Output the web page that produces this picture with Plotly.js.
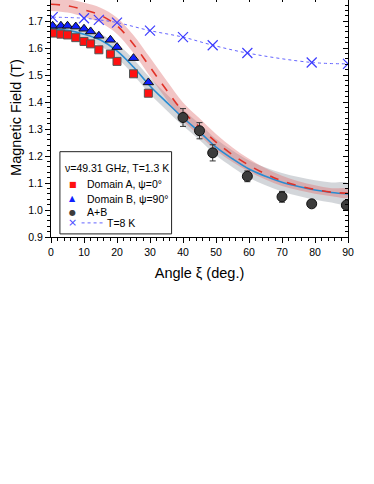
<!DOCTYPE html>
<html>
<head>
<meta charset="utf-8">
<script src="https://cdn.plot.ly/plotly-3.0.1.min.js"></script>
<style>
  html, body { margin: 0; padding: 0; background: #fff; overflow: hidden; }
  #plot { position: absolute; left: 0; top: -2px; width: 374px; height: 486px; }
</style>
</head>
<body>
<div id="plot"></div>
<script>
// measured data
var xiA = [0.5, 3, 5, 7.5, 10, 12, 14.5, 18, 20, 25, 29.5];
var bA = [1.656, 1.652, 1.649, 1.639, 1.625, 1.616, 1.594, 1.578, 1.551, 1.505, 1.433];
var xiB = [0.5, 3, 5, 7.5, 10, 12, 14.5, 18, 20, 25, 29.5];
var bB = [1.683, 1.683, 1.683, 1.680, 1.672, 1.662, 1.646, 1.631, 1.604, 1.563, 1.473];
var xiAB = [40, 45, 49, 59.5, 70, 79, 89.5];
var bAB = [1.343, 1.294, 1.212, 1.125, 1.049, 1.023, 1.018];
var errAB = [0.033, 0.03, 0.03, 0.02, 0.02, 0.01, 0.01];
var xi8K = [0.5, 10, 14.5, 20, 30, 40, 49, 59.5, 79, 90];
var b8K = [1.715, 1.711, 1.705, 1.695, 1.665, 1.641, 1.611, 1.582, 1.547, 1.542];

// fit curves
var fitX = [0, 5, 10, 15, 20, 25, 30, 35, 40, 45, 50, 55, 60, 65, 70, 75, 80, 85, 90];
var fitRed = [1.763, 1.757, 1.742, 1.722, 1.683, 1.615, 1.530, 1.445, 1.365, 1.308, 1.252, 1.205, 1.166, 1.134, 1.108, 1.090, 1.076, 1.066, 1.062];
var fitBlue = [1.671, 1.666, 1.652, 1.630, 1.590, 1.530, 1.460, 1.400, 1.342, 1.290, 1.233, 1.190, 1.152, 1.125, 1.103, 1.087, 1.074, 1.065, 1.060];
var errRed = [0.025, 0.025, 0.026, 0.028, 0.030, 0.033, 0.035, 0.035, 0.034, 0.032, 0.030, 0.027, 0.024, 0.021, 0.019, 0.017, 0.016, 0.015, 0.015];
var errBlue = [0.020, 0.020, 0.021, 0.023, 0.026, 0.029, 0.030, 0.030, 0.030, 0.030, 0.030, 0.031, 0.032, 0.033, 0.034, 0.035, 0.036, 0.037, 0.038];

// legend entries
var legTitle = 'ν=49.31 GHz, T=1.3 K';
var legNames = ['Domain A, ψ=0°', 'Domain B, ψ=90°', 'A+B', 'T=8 K'];
var legSyms = ['■', '▲', '●', '×'];
var legColors = ['#ff1010', '#1020ff', '#3c3c3c', '#4a4aff'];

function band(fit, err, color){
  var up = fit.map(function(v, i){ return v + err[i]; });
  var lo = fit.map(function(v, i){ return v - err[i]; });
  return {
    x: fitX.concat(fitX.slice().reverse()),
    y: up.concat(lo.reverse()),
    type: 'scatter', mode: 'lines', fill: 'toself',
    fillcolor: color, line: {width: 0, shape: 'spline'},
    hoverinfo: 'skip'
  };
}

var data = [
  band(fitBlue, errBlue, 'rgba(150,158,166,0.42)'),
  band(fitRed, errRed, 'rgba(222,110,110,0.40)'),
  {x: fitX, y: fitBlue, type: 'scatter', mode: 'lines',
   line: {color: 'rgb(40,140,210)', width: 1.6, shape: 'spline'}},
  {x: fitX, y: fitRed, type: 'scatter', mode: 'lines',
   line: {color: 'rgb(225,50,40)', width: 1.6, dash: 'dash', shape: 'spline'}},
  {x: xi8K, y: b8K, type: 'scatter', mode: 'lines+markers',
   line: {color: 'rgb(100,100,255)', width: 1, dash: 'dot', shape: 'spline'},
   marker: {symbol: 'x-thin', size: 10, line: {color: 'rgb(60,60,255)', width: 1.2}}},
  {x: xiAB, y: bAB, type: 'scatter', mode: 'markers',
   error_y: {type: 'data', array: errAB, color: '#333', thickness: 1, width: 3},
   marker: {symbol: 'circle', size: 10, color: '#3c3c3c', line: {color: '#111', width: 1}}},
  {x: xiA, y: bA, type: 'scatter', mode: 'markers',
   marker: {symbol: 'square', size: 8, color: '#ff1010', line: {color: '#555', width: 1}}},
  {x: xiB, y: bB, type: 'scatter', mode: 'markers',
   marker: {symbol: 'triangle-up', size: 9, color: '#1020ff', line: {color: '#111', width: 1}}},
  {x: [], y: [], xaxis: 'x2', yaxis: 'y2', type: 'scatter'}
];

var yr = [0.9, 1.786];
var tickfont = {family: 'Liberation Sans, Arial, sans-serif', size: 10.5, color: '#000'};

// hand-drawn legend box (paper coords of the plot area)
var legTop = 0.287, legStep = [0.067, 0.060, 0.056, 0.045];
var annotations = [{
  xref: 'paper', yref: 'paper', x: 0.040, y: legTop, xanchor: 'left', yanchor: 'middle',
  text: legTitle, showarrow: false, font: {size: 10.5}
}];
var yy = legTop;
legNames.forEach(function(name, i){
  yy -= legStep[i];
  annotations.push({
    xref: 'paper', yref: 'paper', x: 0.073, y: yy, xanchor: 'center', yanchor: 'middle',
    text: legSyms[i], showarrow: false,
    font: {size: i === 3 ? 11 : 8, color: legColors[i], family: 'DejaVu Sans'}
  });
  annotations.push({
    xref: 'paper', yref: 'paper', x: i === 3 ? 0.183 : 0.113, y: yy, xanchor: 'left', yanchor: 'middle',
    text: name, showarrow: false, font: {size: 10.5}
  });
});

var layout = {
  width: 374, height: 486,
  margin: {l: 51, r: 26, t: 0, b: 247},
  paper_bgcolor: '#fff', plot_bgcolor: '#fff',
  font: {family: 'Liberation Sans, Arial, sans-serif', color: '#000'},
  showlegend: false,
  xaxis: {
    range: [0, 90], dtick: 10, ticks: 'outside', ticklen: 5, tickwidth: 1, tickcolor: '#000',
    minor: {dtick: 2, ticks: 'outside', ticklen: 3, tickcolor: '#000'},
    showline: true, linecolor: '#000', linewidth: 1, showgrid: false, zeroline: false,
    tickfont: tickfont,
    title: {text: 'Angle ξ (deg.)', font: {size: 14.5}, standoff: 11}
  },
  yaxis: {
    range: yr, dtick: 0.1, tick0: 0.9, tickformat: '.1f', ticks: 'outside', ticklen: 5, tickwidth: 1, tickcolor: '#000',
    minor: {dtick: 0.02, ticks: 'outside', ticklen: 3, tickcolor: '#000'},
    showline: true, linecolor: '#000', linewidth: 1, showgrid: false, zeroline: false,
    tickfont: tickfont,
    title: {text: 'Magnetic Field (T)', font: {size: 14.5}, standoff: 3}
  },
  xaxis2: {
    overlaying: 'x', side: 'top', anchor: 'y2', range: [0, 90], dtick: 10,
    ticks: 'inside', ticklen: 4, tickcolor: '#000',
    minor: {dtick: 2, ticks: 'inside', ticklen: 2, tickcolor: '#000'},
    showticklabels: false, showline: true, linecolor: '#000', showgrid: false, zeroline: false
  },
  yaxis2: {
    overlaying: 'y', side: 'right', anchor: 'x2', range: yr, dtick: 0.1, tick0: 0.9,
    ticks: 'inside', ticklen: 5, tickcolor: '#000',
    minor: {dtick: 0.02, ticks: 'inside', ticklen: 3, tickcolor: '#000'},
    showticklabels: false, showline: true, linecolor: '#000', showgrid: false, zeroline: false
  },
  shapes: [
    {type: 'rect', xref: 'paper', yref: 'paper', x0: 0.030, x1: 0.406, y0: 0.013, y1: 0.357,
     fillcolor: '#fff', line: {color: '#222', width: 1}, layer: 'above'},
    {type: 'line', xref: 'paper', yref: 'paper', x0: 0.103, x1: 0.178,
     y0: legTop - 0.228, y1: legTop - 0.228,
     line: {color: 'rgb(100,100,255)', width: 1, dash: 'dot'}, layer: 'above'}
  ],
  annotations: annotations
};

Plotly.newPlot(document.getElementById('plot'), data, layout, {displayModeBar: false, staticPlot: true});
</script>
</body>
</html>
